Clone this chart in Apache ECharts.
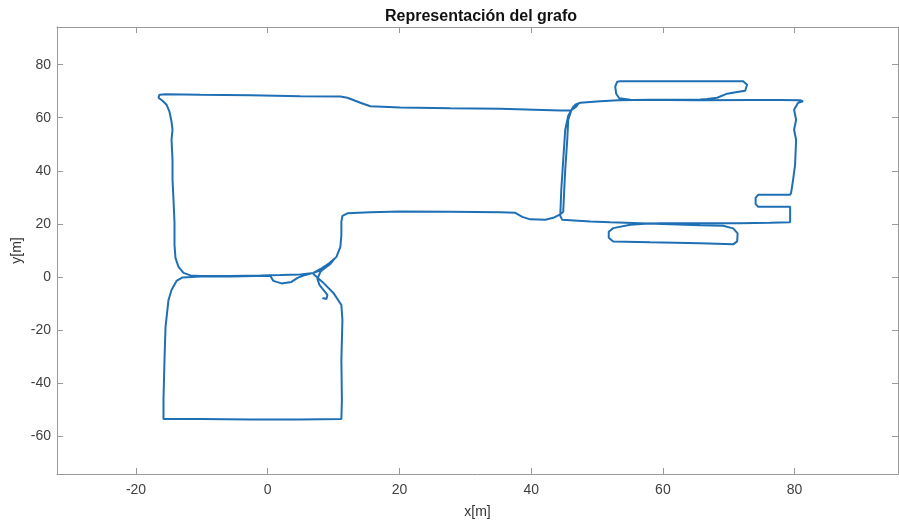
<!DOCTYPE html>
<html>
<head>
<meta charset="utf-8">
<script src="https://cdn.jsdelivr.net/npm/echarts@6/dist/echarts.min.js"></script>
<style>
html,body{margin:0;padding:0;background:#fff;}
#chart{width:899px;height:526px;}
</style>
</head>
<body>
<div id="chart"></div>
<script>
// Tick labels
var xTicks = [-20, 0, 20, 40, 60, 80];
var yTicks = [-60, -40, -20, 0, 20, 40, 60, 80];

// Trajectory x values [m]
var trajX = [
  6.93, 8.30, 9.97, 11.18, 11.34, 11.18, 11.26, 11.18, 4.96, -2.63, -10.21, -15.83, -15.83, -15.68, -15.52, -15.07, -14.61, -13.85, -12.94, -10.21, -5.66, -1.87, 0.41,
  0.86, 2.08, 3.60, 4.51, 5.72, 6.93,
  8.30, 9.67, 10.43, 11.03, 11.18, 11.18, 11.34, 12.09, 15.58, 20.14, 27.72, 35.31, 37.59, 38.65, 39.86, 42.14, 43.35, 44.42, 44.87,
  45.02, 45.17, 45.48, 45.63, 46.08, 46.69, 47.45, 50.49, 53.22,
  58.07, 65.66, 66.72, 68.24, 69.76, 71.28, 72.49, 72.79, 72.19, 65.66, 58.07, 53.52, 53.06, 52.76, 52.91, 53.37, 55.04, 65.66, 73.25, 77.80, 80.83, 81.28,
  80.53, 79.92, 80.23, 79.92, 80.23, 80.07, 79.77, 79.47, 79.32,
  77.04, 74.46, 74.08, 74.08, 74.46, 77.04, 79.32, 79.32, 79.32,
  76.28, 71.73, 65.66, 59.59,
  57.32, 55.04, 52.46, 51.78, 51.78, 52.46, 58.07, 65.66, 70.67, 71.28, 71.35, 70.67, 69.15, 65.66, 61.11, 56.56, 52.00, 48.97, 44.72, 44.42,
  44.57, 44.87, 45.17, 45.63, 46.39, 47.15, 46.84, 46.08, 44.42, 35.31, 27.72, 20.14, 15.58, 14.07, 12.09, 11.03, 4.96, -2.63, -10.21, -15.52, -16.43, -16.59,
  -15.98, -15.37, -14.92, -14.61, -14.46, -14.61, -14.46, -14.46, -14.31, -14.16, -14.16, -14.01, -13.55, -12.79, -11.73, -10.21, -5.66, -1.11, 1.93, 4.96, 6.93,
  8.30, 9.51, 10.12,
  9.06, 8.00, 7.54, 7.85, 8.45, 9.06, 8.91, 8.30
];

// Trajectory y values [m]
var trajY = [
  1.13, -1.89, -6.04, -10.57, -16.23, -31.32, -46.42, -53.58, -53.77, -53.77, -53.58, -53.58, -46.42, -31.32, -18.87, -8.68, -4.91, -1.51, -0.19, 0.19, 0.19, 0.38, 0.38,
  -1.51, -2.45, -1.89, -0.38, 0.75, 1.51,
  3.40, 5.66, 7.55, 11.32, 15.85, 20.75, 23.02, 23.96, 24.34, 24.64, 24.53, 24.34, 24.15, 22.64, 21.70, 21.51, 22.26, 23.58, 24.53,
  32.83, 40.38, 51.70, 59.25, 62.64, 64.91, 65.66, 66.23, 66.60,
  66.79, 66.91, 67.06, 67.55, 69.06, 69.70, 70.19, 72.45, 73.77, 73.77, 73.77, 73.77, 73.58, 71.70, 69.06, 67.36, 66.79, 66.60, 66.68, 66.72, 66.60, 66.23,
  65.66, 63.02, 59.25, 55.47, 51.70, 42.26, 36.60, 31.70, 30.94,
  30.94, 30.94, 29.81, 27.55, 26.42, 26.42, 26.42, 23.40, 20.57,
  20.38, 20.26, 20.26, 20.19,
  20.00, 19.62, 18.38, 16.98, 14.72, 13.32, 13.02, 12.64, 12.26, 13.40, 16.42, 18.30, 19.25, 19.43, 19.81, 20.19, 20.57, 20.87, 21.51, 23.02,
  32.83, 44.15, 55.47, 60.75, 64.15, 65.28, 64.15, 62.83, 62.75, 63.40, 63.58, 63.89, 64.34, 65.66, 67.55, 68.04, 68.11, 68.49, 68.68, 68.87, 68.68, 67.55,
  66.42, 64.91, 62.26, 58.49, 55.47, 51.70, 44.15, 36.60, 29.06, 20.38, 12.08, 7.17, 3.77, 1.51, 0.57, 0.38, 0.38, 0.57, 0.75, 0.94, 1.51,
  2.64, 4.91, 6.79,
  4.53, 1.89, -0.75, -3.02, -4.91, -6.79, -8.30, -7.92
];

var points = trajX.map(function (x, i) { return [x, trajY[i]]; });

var FONT = "'Liberation Sans', Arial, sans-serif";
var AX = '#9a9a9a';
var TXT = '#404040';

var chart = echarts.init(document.getElementById('chart'), null, {renderer: 'canvas'});
chart.setOption({
  animation: false,
  backgroundColor: '#ffffff',
  title: {
    text: 'Representación del grafo',
    left: 380, top: 4,
    textStyle: {fontFamily: FONT, fontSize: 16, fontWeight: 'bold', color: '#111'}
  },
  grid: {left: 57, top: 27, right: 1, bottom: 52, containLabel: false},
  xAxis: [{
    type: 'value', position: 'bottom', min: -32, max: 95.7,
    name: 'x[m]', nameLocation: 'middle', nameGap: 31,
    nameTextStyle: {fontFamily: FONT, fontSize: 14, color: '#333'},
    axisLine: {show: true, onZero: false, lineStyle: {color: AX, width: 1}},
    axisTick: {show: true, inside: true, length: 6, customValues: xTicks, lineStyle: {color: AX}},
    axisLabel: {customValues: xTicks, fontFamily: FONT, fontSize: 14, color: TXT, margin: 9},
    splitLine: {show: false}
  }, {
    type: 'value', position: 'top', min: -32, max: 95.7,
    axisLine: {show: true, onZero: false, lineStyle: {color: AX, width: 1}},
    axisTick: {show: true, inside: true, length: 6, customValues: xTicks, lineStyle: {color: AX}},
    axisLabel: {show: false},
    splitLine: {show: false}
  }],
  yAxis: [{
    type: 'value', position: 'left', min: -74.3, max: 94.2,
    name: 'y[m]', nameLocation: 'middle', nameGap: 33, nameRotate: 90,
    nameMoveOverlap: false,
    nameTextStyle: {fontFamily: FONT, fontSize: 14, color: '#333'},
    axisLine: {show: true, onZero: false, lineStyle: {color: AX, width: 1}},
    axisTick: {show: true, inside: true, length: 6, customValues: yTicks, lineStyle: {color: AX}},
    axisLabel: {customValues: yTicks, fontFamily: FONT, fontSize: 14, color: TXT, margin: 6},
    splitLine: {show: false}
  }, {
    type: 'value', position: 'right', min: -74.3, max: 94.2,
    axisLine: {show: true, onZero: false, lineStyle: {color: AX, width: 1}},
    axisTick: {show: true, inside: true, length: 6, customValues: yTicks, lineStyle: {color: AX}},
    axisLabel: {show: false},
    splitLine: {show: false}
  }],
  series: [{
    type: 'line',
    xAxisIndex: 0, yAxisIndex: 0,
    data: points,
    showSymbol: false,
    smooth: false,
    lineStyle: {color: '#1f6fb5', width: 2},
    z: 3
  }]
});
</script>
</body>
</html>
